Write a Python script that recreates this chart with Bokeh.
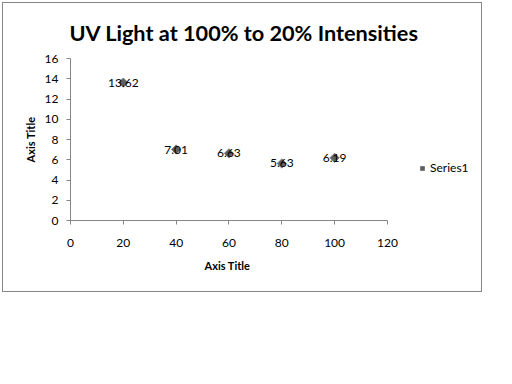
from bokeh.plotting import figure
from bokeh.models import Range1d, ColumnDataSource, Legend, LegendItem, FixedTicker, Title
from bokeh.core.properties import value
from bokeh.embed import file_html
from bokeh.resources import INLINE

x_vals = [20, 40, 60, 80, 100]
y_vals = [13.62, 7.01, 6.63, 5.63, 6.19]
point_labels = ["13.62", "7.01", "6.63", "5.63", "6.19"]
x_ticks = [0, 20, 40, 60, 80, 100, 120]
y_ticks = [0, 2, 4, 6, 8, 10, 12, 14, 16]
title_text = "UV Light at 100% to 20% Intensities"
x_axis_title = "Axis Title"
y_axis_title = "Axis Title"
series_name = "Series1"

FONT = "Lato"
AXIS_COLOR = "#868686"

src = ColumnDataSource(dict(x=x_vals, y=y_vals, lab=point_labels))

p = figure(width=480, height=290, output_backend="svg", toolbar_location=None,
           x_range=Range1d(0, 156), y_range=Range1d(0, 16),
           min_border_left=67, min_border_right=1, min_border_top=55, min_border_bottom=73,
           styles={"border": "1px solid #868686", "margin-left": "2px", "margin-top": "2px"})
p.outline_line_color = None
p.grid.grid_line_color = None
p.background_fill_color = "white"
p.border_fill_color = "white"

t = Title(text=title_text, align="left", text_font=FONT, text_font_size="21.7px",
          text_font_style="bold", text_color="black", offset=-1, standoff=26)
p.add_layout(t, "above")

for ax in (p.xaxis[0], p.yaxis[0]):
    ax.axis_line_color = AXIS_COLOR
    ax.major_tick_line_color = AXIS_COLOR
    ax.minor_tick_line_color = None
    ax.major_tick_in = 0
    ax.major_tick_out = 4
    ax.major_label_text_font = FONT
    ax.major_label_text_font_size = "12px"
    ax.major_label_text_color = "black"

p.yaxis.axis_label = y_axis_title
p.yaxis.axis_label_text_font = FONT
p.yaxis.axis_label_text_font_size = "11px"
p.yaxis.axis_label_text_font_style = "bold"
p.yaxis.axis_label_text_color = "black"

p.xaxis.ticker = FixedTicker(ticks=x_ticks)
p.yaxis.ticker = FixedTicker(ticks=y_ticks)
p.xaxis.bounds = (x_ticks[0], x_ticks[-1])
p.xaxis.major_label_standoff = 14
p.yaxis.major_label_standoff = 8
p.yaxis.axis_label_standoff = 5

# x-axis title, centred under the bounded axis (0..120)
xt = Title(text=x_axis_title, align="left", text_font=FONT, text_font_size="11px",
           text_font_style="bold", text_color="black", offset=134, standoff=15)
p.add_layout(xt, "below")

r = p.scatter("x", "y", source=src, marker="square", size=6.5, angle=45, angle_units="deg",
              fill_color="#5f5f5f", line_color="#7a7a7a", line_width=1)

p.text("x", "y", text="lab", source=src, text_align="center", text_baseline="middle",
       y_offset=0, text_font=value(FONT), text_font_size="12px", text_color="black")

legend = Legend(items=[LegendItem(label=series_name, renderers=[r])],
                location=(347, 45), orientation="vertical",
                border_line_color=None, background_fill_alpha=0,
                glyph_width=10, glyph_height=14, label_standoff=3, padding=0, margin=0,
                label_text_font=FONT, label_text_font_size="12px", label_text_color="black")
p.add_layout(legend, "center")

open("out.html", "w").write(file_html(p, INLINE))
